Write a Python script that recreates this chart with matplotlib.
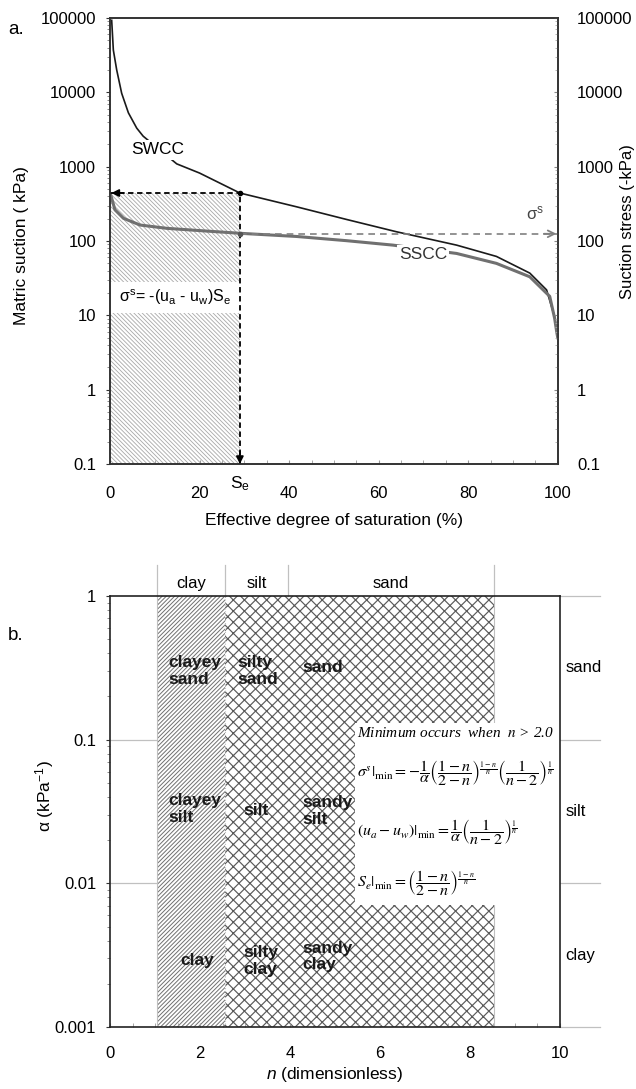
import matplotlib
matplotlib.use('Agg')
import matplotlib.pyplot as plt
from matplotlib.patches import Rectangle
from matplotlib.ticker import LogLocator, NullFormatter, MultipleLocator

plt.rcParams['font.family'] = ['Liberation Sans', 'DejaVu Sans']
plt.rcParams['mathtext.fontset'] = 'custom'
plt.rcParams['mathtext.rm'] = 'Liberation Sans'
plt.rcParams['mathtext.it'] = 'Liberation Sans:italic'
plt.rcParams['mathtext.bf'] = 'Liberation Sans:bold'
plt.rcParams['hatch.linewidth'] = 0.6
plt.rcParams['font.size'] = 12

# ---- panel a: SWCC and SSCC ----
swcc_se = [0.37, 0.74, 1.49, 2.6, 4.1, 5.96, 7.4, 14.9, 20, 29, 41.7, 52.8, 64, 77.4, 86.3, 93.75, 97.5, 99.3, 99.8, 100]
swcc_suction = [93000, 37000, 20000, 9700, 5300, 3300, 2570, 1090, 820, 442, 288, 195, 133, 88, 62, 37, 22, 9.5, 5.8, 5.0]
sscc_se = [0.15, 1.1, 3.0, 6.7, 12.7, 20, 29, 41.7, 52.8, 63.2, 77.4, 86.3, 93.75, 98.2, 99.3, 99.8, 100]
sscc_stress = [417, 263, 202, 164, 148, 138, 127, 115, 101, 88, 68, 50, 33, 18, 9.1, 5.8, 5.0]
se_point = 29
suction_point = 442
stress_point = 125
ticks_a = [0.1, 1, 10, 100, 1000, 10000, 100000]
tick_labels_a = ['0.1', '1', '10', '100', '1000', '10000', '100000']
xticks_a = [0, 20, 40, 60, 80, 100]

# ---- panel b: texture classes in (n, alpha) ----
clay_n = [1.05, 2.56]
cross_n = [2.56, 8.53]
texture_n = [1.05, 2.56, 3.96, 8.53]
texture_top = ['clay', 'silt', 'sand']
alpha_bounds = [1, 0.1, 0.01, 0.001]
texture_right = ['sand', 'silt', 'clay']
region_text = ['clayey\nsand', 'silty\nsand', 'sand',
               'clayey\nsilt', 'silt', 'sandy\nsilt',
               'clay', 'silty\nclay', 'sandy\nclay']
region_n = [1.29, 2.82, 4.27, 1.29, 2.96, 4.27, 1.56, 2.96, 4.27]
region_alpha = [0.30, 0.30, 0.316, 0.033, 0.032, 0.032, 0.0029, 0.0029, 0.0031]
box_n = [5.44, 10]
box_alpha = [0.00708, 0.1306]
ticks_b = [0.001, 0.01, 0.1, 1]
tick_labels_b = ['0.001', '0.01', '0.1', '1']
xticks_b = [0, 2, 4, 6, 8, 10]

spine_col = '#333333'

fig = plt.figure(figsize=(6.36, 10.89), dpi=100)

# ================= panel a =================
ax = fig.add_axes([0.173, 0.5739, 0.704, 0.4096])
ax.set_yscale('log')
ax.set_xlim(0, 100)
ax.set_ylim(0.1, 1e5)

ax.add_patch(Rectangle((0, 0.1), se_point, suction_point - 0.1, facecolor='white',
                       edgecolor='#a8a8a8', hatch='\\' * 8, linewidth=0, zorder=1))
ax.add_patch(Rectangle((0, 10.7), se_point, 28.1 - 10.7, facecolor='white',
                       edgecolor='none', zorder=2))
ax.text(14.5, 17.3, r'$\mathrm{\sigma}^\mathrm{s}$= -(u$_\mathrm{a}$ - u$_\mathrm{w}$)S$_\mathrm{e}$',
        ha='center', va='center', fontsize=11.5, zorder=3)

ax.plot(swcc_se, swcc_suction, color='#1a1a1a', lw=1.2, zorder=4)
ax.plot(sscc_se, sscc_stress, color='#707070', lw=2.2, zorder=4)

ax.plot([0, se_point], [suction_point, suction_point], color='k', lw=1.3, ls=(0, (3, 2)), zorder=5)
ax.plot([se_point, se_point], [0.1, suction_point], color='k', lw=1.3, ls=(0, (3, 2)), zorder=5)
ax.plot([se_point, 100], [stress_point, stress_point], color='#808080', lw=1.2, ls=(0, (4, 3)), zorder=5)
ax.annotate('', xy=(0.3, suction_point), xytext=(9, 0), textcoords='offset points',
            arrowprops=dict(arrowstyle='-|>', color='k', lw=1.2, mutation_scale=11, shrinkA=0, shrinkB=0),
            annotation_clip=False)
ax.annotate('', xy=(se_point, 0.1), xytext=(0, 9), textcoords='offset points',
            arrowprops=dict(arrowstyle='-|>', color='k', lw=1.2, mutation_scale=11, shrinkA=0, shrinkB=0),
            annotation_clip=False)
ax.annotate('', xy=(99.7, stress_point), xytext=(-9, 0), textcoords='offset points',
            arrowprops=dict(arrowstyle='->', color='#808080', lw=1.3, mutation_scale=12, shrinkA=0, shrinkB=0),
            annotation_clip=False)
ax.plot([se_point], [suction_point], 'o', color='k', ms=3, zorder=6)
ax.plot([se_point], [stress_point], 'o', color='#555555', ms=3, zorder=6)

ax.text(10.7, 1675, 'SWCC', ha='center', va='center', fontsize=12.5, zorder=6,
        bbox=dict(facecolor='white', edgecolor='none', pad=1.5))
ax.text(69.9, 65, 'SSCC', ha='center', va='center', fontsize=12.5, color='#333333', zorder=6,
        bbox=dict(facecolor='white', edgecolor='none', pad=1.5))
ax.text(94.9, 237, r'$\mathrm{\sigma}^\mathrm{s}$', ha='center', va='center', fontsize=12, color='#444444')
ax.text(se_point, -0.043, r'S$_\mathrm{e}$', transform=ax.get_xaxis_transform(), ha='center', va='center',
        fontsize=12.5)

ax.set_yticks(ticks_a)
ax.set_yticklabels(tick_labels_a)
ax.yaxis.set_minor_locator(LogLocator(base=10, subs=range(2, 10), numticks=20))
ax.yaxis.set_minor_formatter(NullFormatter())
ax.set_xticks(xticks_a)
ax.xaxis.set_minor_locator(MultipleLocator(5))
ax.tick_params(axis='y', which='major', direction='out', length=3, pad=7, labelsize=12, color=spine_col)
ax.tick_params(axis='y', which='minor', direction='out', length=2, color='#777777')
ax.tick_params(axis='x', which='both', direction='in', length=3, pad=16, labelsize=12, color='#999999')

ax2 = ax.twinx()
ax2.set_yscale('log')
ax2.set_ylim(0.1, 1e5)
ax2.set_yticks(ticks_a)
ax2.set_yticklabels(tick_labels_a)
ax2.yaxis.set_minor_locator(LogLocator(base=10, subs=range(2, 10), numticks=20))
ax2.yaxis.set_minor_formatter(NullFormatter())
ax2.tick_params(axis='y', which='major', direction='in', length=3, pad=14, labelsize=12, color='#888888')
ax2.tick_params(axis='y', which='minor', direction='in', length=2, color='#aaaaaa')
for a in (ax, ax2):
    for s in a.spines.values():
        s.set_color(spine_col)
        s.set_linewidth(1.2)

fig.text(8 / 636, 1 - 29 / 1089, 'a.', fontsize=13.5, va='center')
fig.text(334 / 636, 1 - 521 / 1089, 'Effective degree of saturation (%)', ha='center', va='center',
         fontsize=12.5)
fig.text(14 / 636, 1 - 246 / 1089, 'Matric suction ( kPa)', rotation=90, ha='left', va='center',
         fontsize=12.5)
fig.text(620 / 636, 1 - 222 / 1089, 'Suction stress (-kPa)', rotation=90, ha='left', va='center',
         fontsize=12)

# ================= panel b =================
bx = fig.add_axes([0.173, 0.0569, 0.7075, 0.3958])
bx.set_yscale('log')
bx.set_xlim(0, 10)
bx.set_ylim(0.001, 1)

plt.rcParams['hatch.linewidth'] = 0.7
bx.add_patch(Rectangle((clay_n[0], 0.001), clay_n[1] - clay_n[0], 1 - 0.001, facecolor='white',
                       edgecolor='#707070', hatch='/' * 8, linewidth=0, zorder=1))
plt.rcParams['hatch.linewidth'] = 0.85
bx.add_patch(Rectangle((cross_n[0], 0.001), cross_n[1] - cross_n[0], 1 - 0.001, facecolor='white',
                       edgecolor='#5a5a5a', hatch='xxx', linewidth=0, zorder=1))

grid_col = '#c0c0c0'
for n in [clay_n[0], clay_n[1], cross_n[1]]:
    bx.plot([n, n], [0.001, 1], color=grid_col, lw=0.8, ls=':' if n == clay_n[1] else '-', zorder=2)
for n in texture_n:
    bx.plot([n, n], [1, 1.64], color=grid_col, lw=0.9, clip_on=False, zorder=2)
for a_ in alpha_bounds:
    bx.plot([10, 10.9], [a_, a_], color=grid_col, lw=0.9, clip_on=False, zorder=2)
for a_ in alpha_bounds[1:3]:
    bx.plot([0, clay_n[0]], [a_, a_], color=grid_col, lw=0.9, zorder=2)

bx.add_patch(Rectangle((box_n[0], box_alpha[0]), box_n[1] - box_n[0], box_alpha[1] - box_alpha[0],
                       facecolor='white', edgecolor='none', zorder=4))

for i, lab in enumerate(texture_top):
    nc = (texture_n[i] + texture_n[i + 1]) / 2
    bx.text(nc, 1.23, lab, ha='center', va='center', fontsize=12, clip_on=False)
for i, lab in enumerate(texture_right):
    ac = (alpha_bounds[i] * alpha_bounds[i + 1]) ** 0.5
    bx.text(10.12, ac, lab, ha='left', va='center', fontsize=12, clip_on=False)
for lab, n, a_ in zip(region_text, region_n, region_alpha):
    bx.text(n, a_, lab, ha='left', va='center', fontsize=12.5, fontweight='bold',
            color='#1a1a1a', linespacing=1.15, zorder=5)

bx.text(5.49, 0.111, 'Minimum occurs  when  $n$ > 2.0', family='Liberation Serif', style='italic',
        fontsize=11, ha='left', va='center', zorder=5, math_fontfamily='stix')
bx.text(5.49, 0.0588,
        r'$\sigma^s|_{\min}=-\dfrac{1}{\alpha}\left(\dfrac{1-n}{2-n}\right)^{\frac{1-n}{n}}\left(\dfrac{1}{n-2}\right)^{\frac{1}{n}}$',
        fontsize=11.5, ha='left', va='center', zorder=5, math_fontfamily='stix')
bx.text(5.49, 0.0228,
        r'$(u_a-u_w)|_{\min}=\dfrac{1}{\alpha}\left(\dfrac{1}{n-2}\right)^{\frac{1}{n}}$',
        fontsize=11.5, ha='left', va='center', zorder=5, math_fontfamily='stix')
bx.text(5.49, 0.0100,
        r'$S_e|_{\min}=\left(\dfrac{1-n}{2-n}\right)^{\frac{1-n}{n}}$',
        fontsize=11.5, ha='left', va='center', zorder=5, math_fontfamily='stix')

bx.set_yticks(ticks_b)
bx.set_yticklabels(tick_labels_b)
bx.yaxis.set_minor_locator(LogLocator(base=10, subs=range(2, 10), numticks=20))
bx.yaxis.set_minor_formatter(NullFormatter())
bx.set_xticks(xticks_b)
bx.xaxis.set_minor_locator(MultipleLocator(0.5))
bx.tick_params(axis='y', which='major', direction='out', length=3, pad=7, labelsize=12, color=spine_col)
bx.tick_params(axis='y', which='minor', direction='out', length=2, color='#777777')
bx.tick_params(axis='x', which='both', direction='in', length=3, pad=14, labelsize=12, color='#999999')
for s in bx.spines.values():
    s.set_color('#222222')
    s.set_linewidth(1.2)
    s.set_zorder(6)

fig.text(8 / 636, 1 - 635 / 1089, 'b.', fontsize=13.5, va='center')
fig.text(335 / 636, 1 - 1075 / 1089, r'$n$ (dimensionless)', ha='center', va='center', fontsize=12.5)
fig.text(33 / 636, 1 - 796 / 1089, r'$\mathrm{\alpha}$ (kPa$^{-1}$)', rotation=90, ha='left', va='center',
         fontsize=12.5)

fig.savefig('out.png', dpi=100)
